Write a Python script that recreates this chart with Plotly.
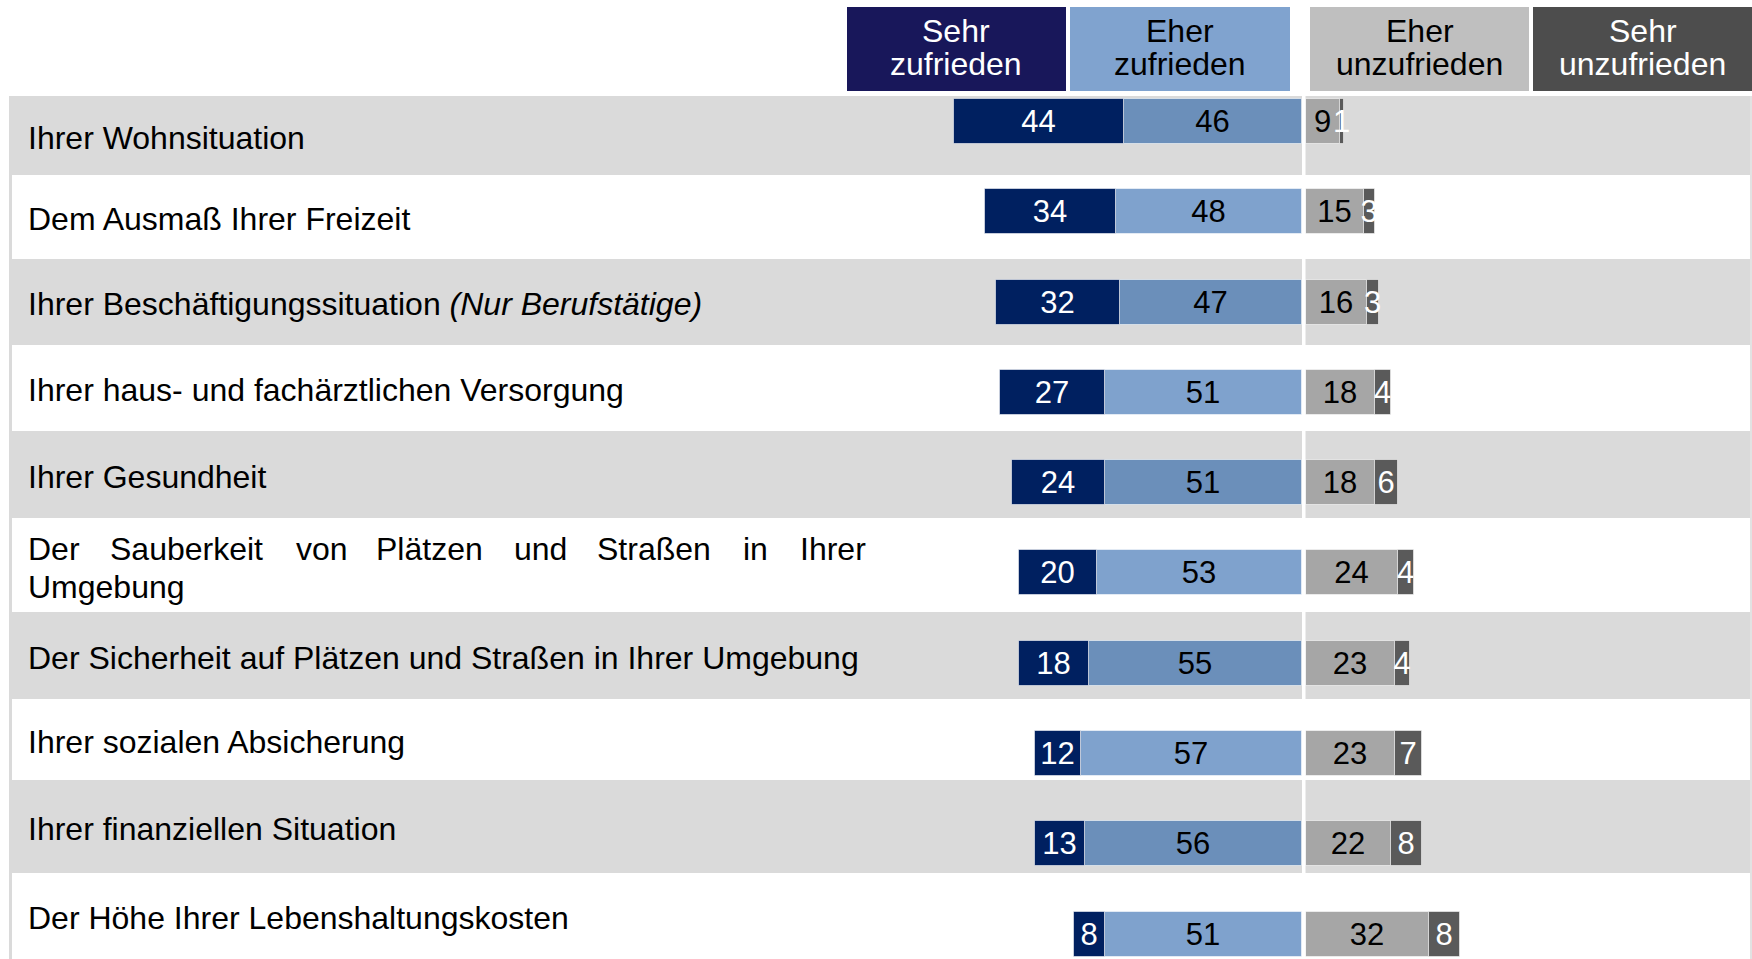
import plotly.graph_objects as go

# ---------------- data ----------------
categories = [
    "Ihrer Wohnsituation",
    "Dem Ausmaß Ihrer Freizeit",
    "Ihrer Beschäftigungssituation <i>(Nur Berufstätige)</i>",
    "Ihrer haus- und fachärztlichen Versorgung",
    "Ihrer Gesundheit",
    "Der Sauberkeit von Plätzen und Straßen in Ihrer Umgebung",
    "Der Sicherheit auf Plätzen und Straßen in Ihrer Umgebung",
    "Ihrer sozialen Absicherung",
    "Ihrer finanziellen Situation",
    "Der Höhe Ihrer Lebenshaltungskosten",
]
series_names = ["Sehr zufrieden", "Eher zufrieden", "Eher unzufrieden", "Sehr unzufrieden"]
sehr_zufrieden = [44, 34, 32, 27, 24, 20, 18, 12, 13, 8]
eher_zufrieden = [46, 48, 47, 51, 51, 53, 55, 57, 56, 51]
eher_unzufrieden = [9, 15, 16, 18, 18, 24, 23, 23, 22, 32]
sehr_unzufrieden = [1, 3, 3, 4, 6, 4, 4, 7, 8, 8]

# ---------------- layout constants (pixels) ----------------
W, H = 1752, 959
FONT = "Liberation Sans, Arial, sans-serif"
FS = 32
NEG_ZERO_PX = 1302.0
POS_ZERO_PX = 1305.5
UNIT_PX = 3.872
ROW0_PX = 121.5
ROW_STEP_PX = 90.28
BAR_H_PX = 45.0
band_edges = [96, 175, 259, 345, 431, 518, 612, 699, 780, 873, 959]
BAND_GRAY = "#dadada"

header_boxes = [(847, 1066), (1070, 1290), (1310, 1529), (1533, 1752)]
header_colors = ["#18175a", "#80a3cf", "#bfbfbf", "#4d4d4d"]
header_text_colors = ["white", "black", "black", "white"]

bar_colors_sz = "#002060"
bar_colors_ez = ["#6b8fba" if i % 2 == 0 else "#7fa2cd" for i in range(len(categories))]
bar_colors_eu = "#a6a6a6"
bar_colors_su = "#5a5a5a"


def pxx(x):
    return x / W


def pyy(y):
    return 1 - y / H


rows = list(range(len(categories)))
bw = BAR_H_PX / ROW_STEP_PX

fig = go.Figure()


def add(vals, sign, color, tcolor, name, xaxis):
    fig.add_trace(go.Bar(
        y=rows, x=[sign * v for v in vals], orientation="h", width=bw,
        text=vals, texttemplate="%{text}", textposition="inside", textangle=0,
        insidetextanchor="middle", constraintext="none",
        insidetextfont=dict(family=FONT, size=31, color=tcolor),
        marker=dict(color=color, line=dict(width=1, color="rgba(255,255,255,0.55)")),
        name=name, showlegend=False, hoverinfo="skip", xaxis=xaxis, yaxis="y",
    ))


add(eher_zufrieden, -1, bar_colors_ez, "black", series_names[1], "x")
add(sehr_zufrieden, -1, bar_colors_sz, "white", series_names[0], "x")
add(eher_unzufrieden, 1, bar_colors_eu, "black", series_names[2], "x2")
add(sehr_unzufrieden, 1, bar_colors_su, "white", series_names[3], "x2")

shapes = []
# row bands
for i in range(len(band_edges) - 1):
    if i % 2 == 0:
        shapes.append(dict(type="rect", xref="paper", yref="paper", layer="below",
                           x0=pxx(9), x1=1, y0=pyy(band_edges[i + 1]), y1=pyy(band_edges[i]),
                           fillcolor=BAND_GRAY, line=dict(width=0)))
# left border / right border
shapes.append(dict(type="rect", xref="paper", yref="paper", layer="below",
                   x0=pxx(9), x1=pxx(12), y0=0, y1=pyy(band_edges[0]),
                   fillcolor=BAND_GRAY, line=dict(width=0)))
shapes.append(dict(type="rect", xref="paper", yref="paper", layer="below",
                   x0=pxx(1750), x1=1, y0=0, y1=pyy(band_edges[0]),
                   fillcolor="#e2e2e2", line=dict(width=0)))
# white divider at zero
shapes.append(dict(type="rect", xref="paper", yref="paper", layer="above",
                   x0=pxx(NEG_ZERO_PX), x1=pxx(POS_ZERO_PX), y0=0, y1=pyy(band_edges[0]),
                   fillcolor="white", line=dict(width=0)))
# header boxes
for (x0, x1), c in zip(header_boxes, header_colors):
    shapes.append(dict(type="rect", xref="paper", yref="paper", layer="below",
                       x0=pxx(x0), x1=pxx(x1), y0=pyy(91), y1=pyy(7),
                       fillcolor=c, line=dict(width=0)))

annotations = []
# header text
for (x0, x1), name, tc in zip(header_boxes, series_names, header_text_colors):
    w1, w2 = name.split(" ")
    for word, yy in ((w1, 31), (w2, 64)):
        annotations.append(dict(x=pxx((x0 + x1) / 2), y=pyy(yy), xref="paper", yref="paper",
                                text=word, showarrow=False, xanchor="center", yanchor="middle",
                                font=dict(family=FONT, size=FS, color=tc)))

# category labels
LABEL_X = 26
justified_words_x = [28, 110, 296, 376, 514, 597, 743, 800]
for i, cat in enumerate(categories):
    yc = (band_edges[i] + band_edges[i + 1]) / 2 + 2
    if i == 5:
        words = cat.split(" ")
        first = words[:8]
        for w, xw in zip(first, justified_words_x):
            annotations.append(dict(x=pxx(xw - 2), y=pyy(548.5), xref="paper", yref="paper",
                                    text=w, showarrow=False, xanchor="left", yanchor="middle",
                                    font=dict(family=FONT, size=FS, color="black")))
        annotations.append(dict(x=pxx(LABEL_X), y=pyy(586.5), xref="paper", yref="paper",
                                text=" ".join(words[8:]), showarrow=False, xanchor="left",
                                yanchor="middle", font=dict(family=FONT, size=FS, color="black")))
    else:
        annotations.append(dict(x=pxx(LABEL_X), y=pyy(yc), xref="paper", yref="paper",
                                text=cat, showarrow=False, xanchor="left", yanchor="middle",
                                font=dict(family=FONT, size=FS, color="black")))

fig.update_layout(
    width=W, height=H,
    margin=dict(l=0, r=0, t=0, b=0),
    paper_bgcolor="white", plot_bgcolor="rgba(0,0,0,0)",
    barmode="relative", bargap=0,
    uniformtext=dict(minsize=31, mode="show"),
    xaxis=dict(range=[-NEG_ZERO_PX / UNIT_PX, (W - NEG_ZERO_PX) / UNIT_PX], visible=False,
               domain=[0, 1], fixedrange=True),
    xaxis2=dict(range=[-POS_ZERO_PX / UNIT_PX, (W - POS_ZERO_PX) / UNIT_PX], visible=False,
                domain=[0, 1], fixedrange=True, overlaying="x"),
    yaxis=dict(range=[(H - ROW0_PX) / ROW_STEP_PX, -ROW0_PX / ROW_STEP_PX], visible=False,
               domain=[0, 1], fixedrange=True),
    shapes=shapes, annotations=annotations,
    showlegend=False,
)

fig.write_html("out.html", config={"displayModeBar": False},
               post_script="document.body.style.margin='0';document.body.style.overflow='hidden';")
